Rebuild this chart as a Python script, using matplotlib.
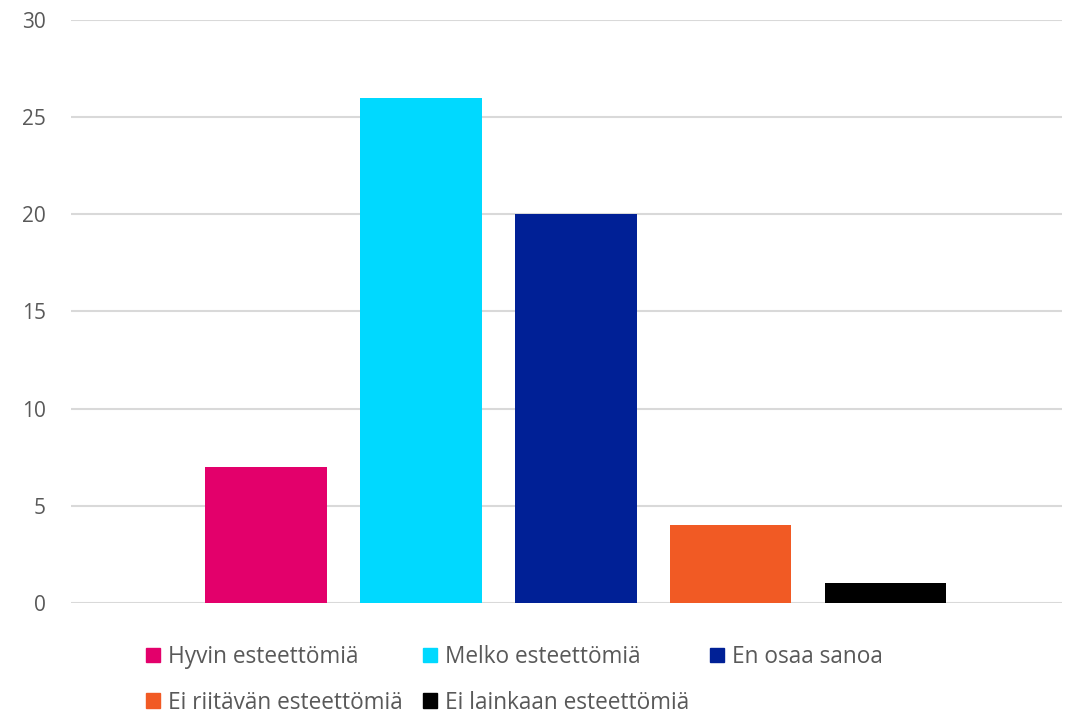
import matplotlib.pyplot as plt
from matplotlib.patches import Patch

plt.rcParams['font.family'] = ['Open Sans', 'DejaVu Sans']

# survey answers, one bar per answer
answers = ["Hyvin esteettömiä", "Melko esteettömiä", "En osaa sanoa",
           "Ei riitävän esteettömiä", "Ei lainkaan esteettömiä"]
counts = [7, 26, 20, 4, 1]
colors = ["#E3006B", "#00D9FF", "#002096", "#F15A24", "#000000"]
y_ticks = [0, 5, 10, 15, 20, 25, 30]

fig = plt.figure(figsize=(10.76, 7.16), dpi=100)
ax = fig.add_axes([0.066, 0.158, 0.921, 0.814])

pos = list(range(len(answers)))
ax.bar(pos, counts, width=0.785, color=colors, zorder=3)

# axis look
ax.set_xlim(-1.26, 5.14)
ax.set_ylim(0, 30)
ax.set_yticks(y_ticks)
ax.set_xticks([])
ax.grid(axis='y', color='#D9D9D9', linewidth=1.5, zorder=0)
for s in ax.spines.values():
    s.set_visible(False)
ax.tick_params(axis='y', length=0, pad=18, labelsize=15, labelcolor='#595959')

# legend in row order, matplotlib fills columns first
handles = [Patch(color=c) for c in colors]
order = [0, 3, 1, 4, 2]
fig.legend([handles[i] for i in order], [answers[i] for i in order],
           ncol=3, loc='upper left', bbox_to_anchor=(0.1357, 0.099),
           borderpad=0, borderaxespad=0,
           frameon=False, fontsize=16.3, labelcolor='#595959',
           handlelength=0.62, handleheight=0.62, handletextpad=0.35,
           columnspacing=0.9, labelspacing=0.95)

fig.savefig("out.png", dpi=100)
